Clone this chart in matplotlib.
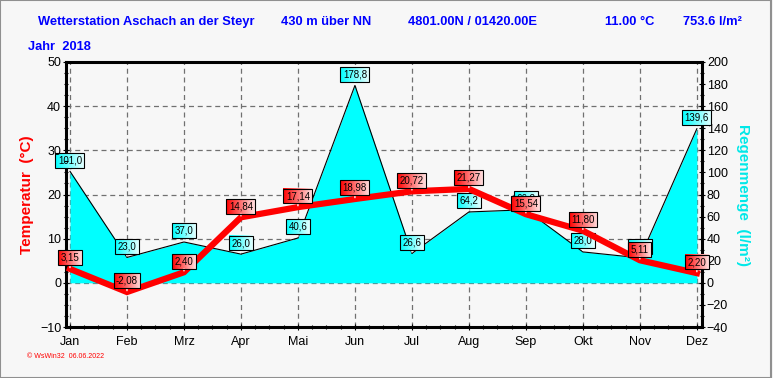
import matplotlib
matplotlib.use("Agg")
import matplotlib.pyplot as plt
import numpy as np
from matplotlib.ticker import MultipleLocator, AutoMinorLocator
from matplotlib.patches import Rectangle
from matplotlib.lines import Line2D

months = ["Jan", "Feb", "Mrz", "Apr", "Mai", "Jun", "Jul", "Aug", "Sep", "Okt", "Nov", "Dez"]
temperature = [3.15, -2.08, 2.40, 14.84, 17.14, 18.98, 20.72, 21.27, 15.54, 11.80, 5.11, 2.20]
rain = [101.0, 23.0, 37.0, 26.0, 40.6, 178.8, 26.6, 64.2, 66.2, 28.0, 22.6, 139.6]
temp_labels = ["3,15", "-2,08", "2,40", "14,84", "17,14", "18,98", "20,72", "21,27", "15,54", "11,80", "5,11", "2,20"]
rain_labels = ["101,0", "23,0", "37,0", "26,0", "40,6", "178,8", "26,6", "64,2", "66,2", "28,0", "22,6", "139,6"]

plt.rcParams['font.family'] = ['Liberation Sans', 'DejaVu Sans']

BG = '#f7f7f7'
fig = plt.figure(figsize=(7.73, 3.78), dpi=100, facecolor=BG)
ax1 = fig.add_axes([66/773, 1-327/378, (702-66)/773, (327-62)/378])
ax2 = ax1.twinx()
ax1.set_zorder(3)
ax1.patch.set_visible(False)
ax2.set_facecolor(BG)

x = list(range(len(months)))
ax1.set_xlim(-0.07, 11.09)
ax1.set_ylim(-10, 50)
ax2.set_ylim(-40, 200)

# grid (behind rain fill)
for t in [0, 10, 20, 30, 40]:
    ax2.add_line(Line2D([0, 1], [t, t], transform=ax1.get_yaxis_transform(),
                        color='#707070', lw=0.9, ls=(0, (4, 3)), zorder=0.5))
for xi in x:
    ax2.axvline(xi, color='#707070', lw=0.9, ls=(0, (4, 3)), zorder=0.5)

# rain area
ax2.fill_between(x, 0, rain, color='#00ffff', zorder=1, lw=0)
ax2.plot(x, rain, color='black', lw=0.8, zorder=1.2)

# temperature line
ax1.plot(x, temperature, color='#ff0000', lw=4.5, zorder=2, solid_joinstyle='miter')

rain_anns = []
for xi, v, lab in zip(x, rain, rain_labels):
    a = ax2.annotate(lab, (xi, v), xytext=(0, 8), textcoords='offset points',
                     ha='center', va='center', fontsize=7, zorder=3, annotation_clip=False,
                     arrowprops=dict(arrowstyle='-', color='white', lw=1, shrinkA=0, shrinkB=1),
                     bbox=dict(boxstyle='square,pad=0.25', fc='none', ec='black', lw=0.8))
    rain_anns.append(a)
temp_anns = []
for xi, v, lab in zip(x, temperature, temp_labels):
    a = ax1.annotate(lab, (xi, v), xytext=(0, 8), textcoords='offset points',
                     ha='center', va='center', fontsize=7, zorder=4, annotation_clip=False,
                     arrowprops=dict(arrowstyle='-', color='white', lw=1, shrinkA=0, shrinkB=1),
                     bbox=dict(boxstyle='square,pad=0.25', fc='none', ec='black', lw=0.8))
    temp_anns.append(a)

ax1.set_xticks(x)
ax1.set_xticklabels(months)
ax1.xaxis.set_minor_locator(AutoMinorLocator(4))
ax1.yaxis.set_major_locator(MultipleLocator(10))
ax1.yaxis.set_minor_locator(AutoMinorLocator(4))
ax2.yaxis.set_major_locator(MultipleLocator(20))
ax2.yaxis.set_minor_locator(AutoMinorLocator(2))

for s in ax1.spines.values():
    s.set_visible(False)
for s in ax2.spines.values():
    s.set_linewidth(2.2)
    s.set_color('black')
for ax in (ax1, ax2):
    ax.tick_params(which='major', length=5, width=0.8, direction='inout', labelsize=9, pad=1)
    ax.tick_params(which='minor', length=3, width=0.8, direction='inout')
ax1.tick_params(axis='x', which='major', pad=4)

ax1.set_ylabel('Temperatur  (°C)', color='#ff0000', fontsize=11, fontweight='bold')
ax1.yaxis.set_label_coords(-(66-34)/636, 0.5)
ax2.set_ylabel('Regenmenge  (l/m²)', color='#00e8e8', fontsize=11, fontweight='bold',
               rotation=270, labelpad=16)

blue = '#0000ff'
ty = 1 - 22/378
fig.text(38/773, ty, 'Wetterstation Aschach an der Steyr', color=blue, fontsize=9.3, fontweight='bold', va='center')
fig.text(281/773, ty, '430 m über NN', color=blue, fontsize=9.3, fontweight='bold', va='center')
fig.text(408/773, ty, '4801.00N / 01420.00E', color=blue, fontsize=9.3, fontweight='bold', va='center')
fig.text(605/773, ty, '11.00 °C', color=blue, fontsize=9.3, fontweight='bold', va='center')
fig.text(683/773, ty, '753.6 l/m²', color=blue, fontsize=9.3, fontweight='bold', va='center')
fig.text(28/773, 1-47/378, 'Jahr  2018', color=blue, fontsize=9.3, fontweight='bold', va='center')
fig.text(27/773, 1-357/378, '© WsWin32  06.06.2022', color='#ff0000', fontsize=5, va='center')

fig.patches.append(Rectangle((0, 0), 1 - 2/773, 1, transform=fig.transFigure, fill=False,
                             ec='#909090', lw=1.5))

# gradient fills behind the label boxes
fig.canvas.draw()

def grad_fill(ax, anns, c0, c1, z):
    inv = ax.transData.inverted()
    n = 64
    t = np.linspace(0, 1, n)
    img = np.zeros((1, n, 3))
    for k in range(3):
        img[0, :, k] = c0[k] + (c1[k] - c0[k]) * t
    for a in anns:
        bb = a.get_bbox_patch().get_window_extent()
        (x0, y0), (x1, y1) = inv.transform([(bb.x0, bb.y0), (bb.x1, bb.y1)])
        im = ax.imshow(img, extent=(x0, x1, y0, y1), aspect='auto', zorder=z,
                       interpolation='bilinear')
        im.set_clip_on(False)
    ax.set_xlim(-0.07, 11.09)

grad_fill(ax1, temp_anns, (1.0, 0.0, 0.0), (1.0, 0.88, 0.88), 3.5)
ax1.set_ylim(-10, 50)
grad_fill(ax2, rain_anns, (0.0, 1.0, 1.0), (0.9, 1.0, 1.0), 2.8)
ax2.set_ylim(-40, 200)

fig.savefig('out.png', dpi=100, facecolor=BG)
